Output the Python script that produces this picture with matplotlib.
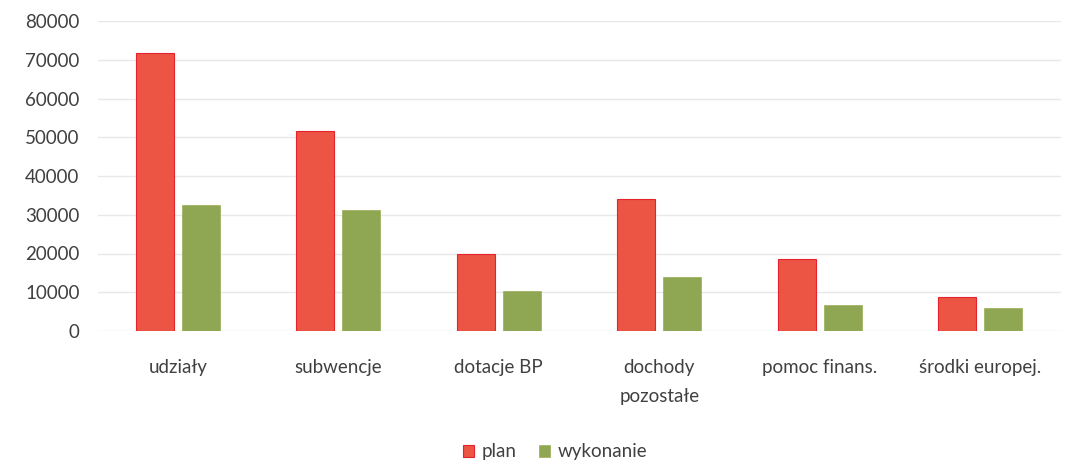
import matplotlib.pyplot as plt
import numpy as np

# dane z wykresu
kategorie = ['udziały', 'subwencje', 'dotacje BP', 'dochody\npozostałe', 'pomoc finans.', 'środki europej.']
plan = [71700, 51500, 20000, 34000, 18700, 8700]
wykonanie = [32400, 31100, 10300, 14000, 6700, 6000]

plt.rcParams['font.family'] = ['Lato', 'DejaVu Sans']

fig = plt.figure(figsize=(10.65, 4.7), dpi=100)
ax = fig.add_axes([97.5 / 1065, 1 - 331 / 470, 963 / 1065, 310 / 470])

x = np.arange(len(kategorie))
width = 0.236
ax.bar(x - 0.143, plan, width, color='#EC5443', edgecolor='#E5232F', linewidth=0.8, label='plan', zorder=3)
ax.bar(x + 0.143, wykonanie, width, color='#8FA653', edgecolor='#9AAE55', linewidth=0.5, label='wykonanie', zorder=3)

ax.set_xlim(-0.5, len(kategorie) - 0.5)
ax.set_ylim(0, 80000)
ax.set_yticks(np.arange(0, 80001, 10000))
ax.set_xticks(x)
ax.set_xticklabels(kategorie, fontsize=13.5, color='#404040', linespacing=1.9)
ax.tick_params(axis='y', labelsize=13.5, labelcolor='#404040', length=0, pad=13)
ax.tick_params(axis='x', length=0, pad=20)
ax.grid(axis='y', color='#E8E8E8', linewidth=1, zorder=0)
for s in ax.spines.values():
    s.set_visible(False)

fig.legend(loc='center', bbox_to_anchor=(555 / 1065, 1 - 452 / 470), ncol=2, frameon=False,
           fontsize=13.5, handlelength=0.6, handleheight=0.6, handletextpad=0.4, columnspacing=1.2,
           labelcolor='#404040')

fig.savefig('out.png', dpi=100)
